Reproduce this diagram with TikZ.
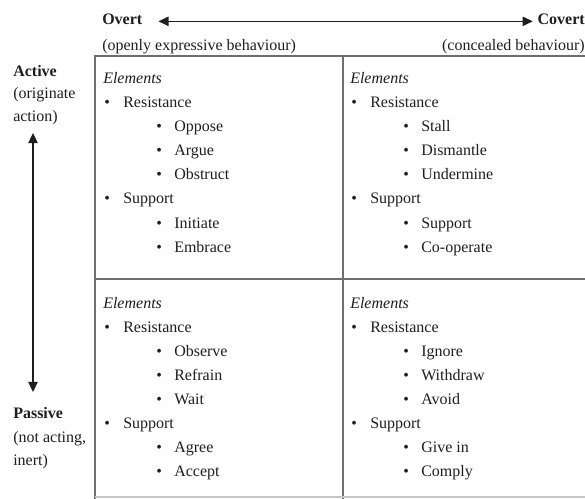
\documentclass[tikz,border=0pt,12pt]{standalone}
\usepackage{fontspec}
\setmainfont{Liberation Serif}
\usetikzlibrary{arrows.meta,positioning}
\definecolor{ink}{HTML}{1E1E1E}
\definecolor{rule}{HTML}{6E6E6E}
\tikzset{
  txt/.style={anchor=base west, inner sep=0pt, text=ink},
  grid/.style={rule, line width=1.5pt},
  axis/.style={ink, line width=0.8pt, {Triangle[length=7.5pt,width=7pt]}-{Triangle[length=7.5pt,width=7pt]}}
}
% name, x, baseline of "Elements", resistance items, support items
\newcommand{\quadrant}[5]{%
  \node[txt, font=\itshape] (#1-el) at (#2,#3) {Elements};
  \node[txt] (#1-rb) at ({#2+1},{#3+24}) {\textbullet};
  \node[txt] (#1-res) at ({#2+20},{#3+24}) {Resistance};
  \foreach \w [count=\i] in {#4}{
    \node[txt] (#1-r\i b) at ({#2+53},{#3+24+24*\i}) {\textbullet};
    \node[txt] (#1-r\i) at ({#2+71},{#3+24+24*\i}) {\w};
  }
  \node[txt] (#1-sb) at ({#2+1},{#3+120}) {\textbullet};
  \node[txt] (#1-sup) at ({#2+20},{#3+120}) {Support};
  \foreach \w [count=\i] in {#5}{
    \node[txt] (#1-s\i b) at ({#2+53},{#3+120+24*\i}) {\textbullet};
    \node[txt] (#1-s\i) at ({#2+71},{#3+120+24*\i}) {\w};
  }
}
\begin{document}
\begin{tikzpicture}[x=0.75pt,y=-0.75pt]
\useasboundingbox (0,0) rectangle (585,499);
\draw[grid] (95,499) -- (95,56) -- (586,56);
\draw[grid] (343,56) -- (343,499);
\draw[grid] (95,279) -- (586,279);
\draw[grid, rule!40] (95,497) -- (586,497);

\node[txt, font=\bfseries] (ov) at (102,25) {Overt};
\node[txt, anchor=base east, font=\bfseries] (cov) at (585,25) {Covert};
\node[txt] (ovx) at (102,51) {(openly expressive behaviour)};
\node[txt, anchor=base east] (covx) at (585,51) {(concealed behaviour)};
\draw[axis, shorten <=12pt, shorten >=3.5pt] (ov.mid east) -- (cov.mid west);

\node[txt, font=\bfseries] (act) at (13,77) {Active};
\node[txt] (act1) at (13,99) {(originate};
\node[txt] (act2) at (13,122) {action)};
\node[txt, font=\bfseries] (pas) at (13,418) {Passive};
\node[txt] (pas1) at (13,442) {(not acting,};
\node[txt] (pas2) at (13,465) {inert)};
\draw[axis, shorten <=5.5pt, shorten >=11pt] ([xshift=15pt]act2.south west) -- ([xshift=15pt]act2.south west |- pas.north);

\quadrant{tl}{103}{84}{Oppose,Argue,Obstruct}{Initiate,Embrace}
\quadrant{tr}{350}{84}{Stall,Dismantle,Undermine}{Support,Co-operate}
\quadrant{bl}{103}{308}{Observe,Refrain,Wait}{Agree,Accept}
\quadrant{br}{350}{308}{Ignore,Withdraw,Avoid}{Give in,Comply}
\end{tikzpicture}
\end{document}
